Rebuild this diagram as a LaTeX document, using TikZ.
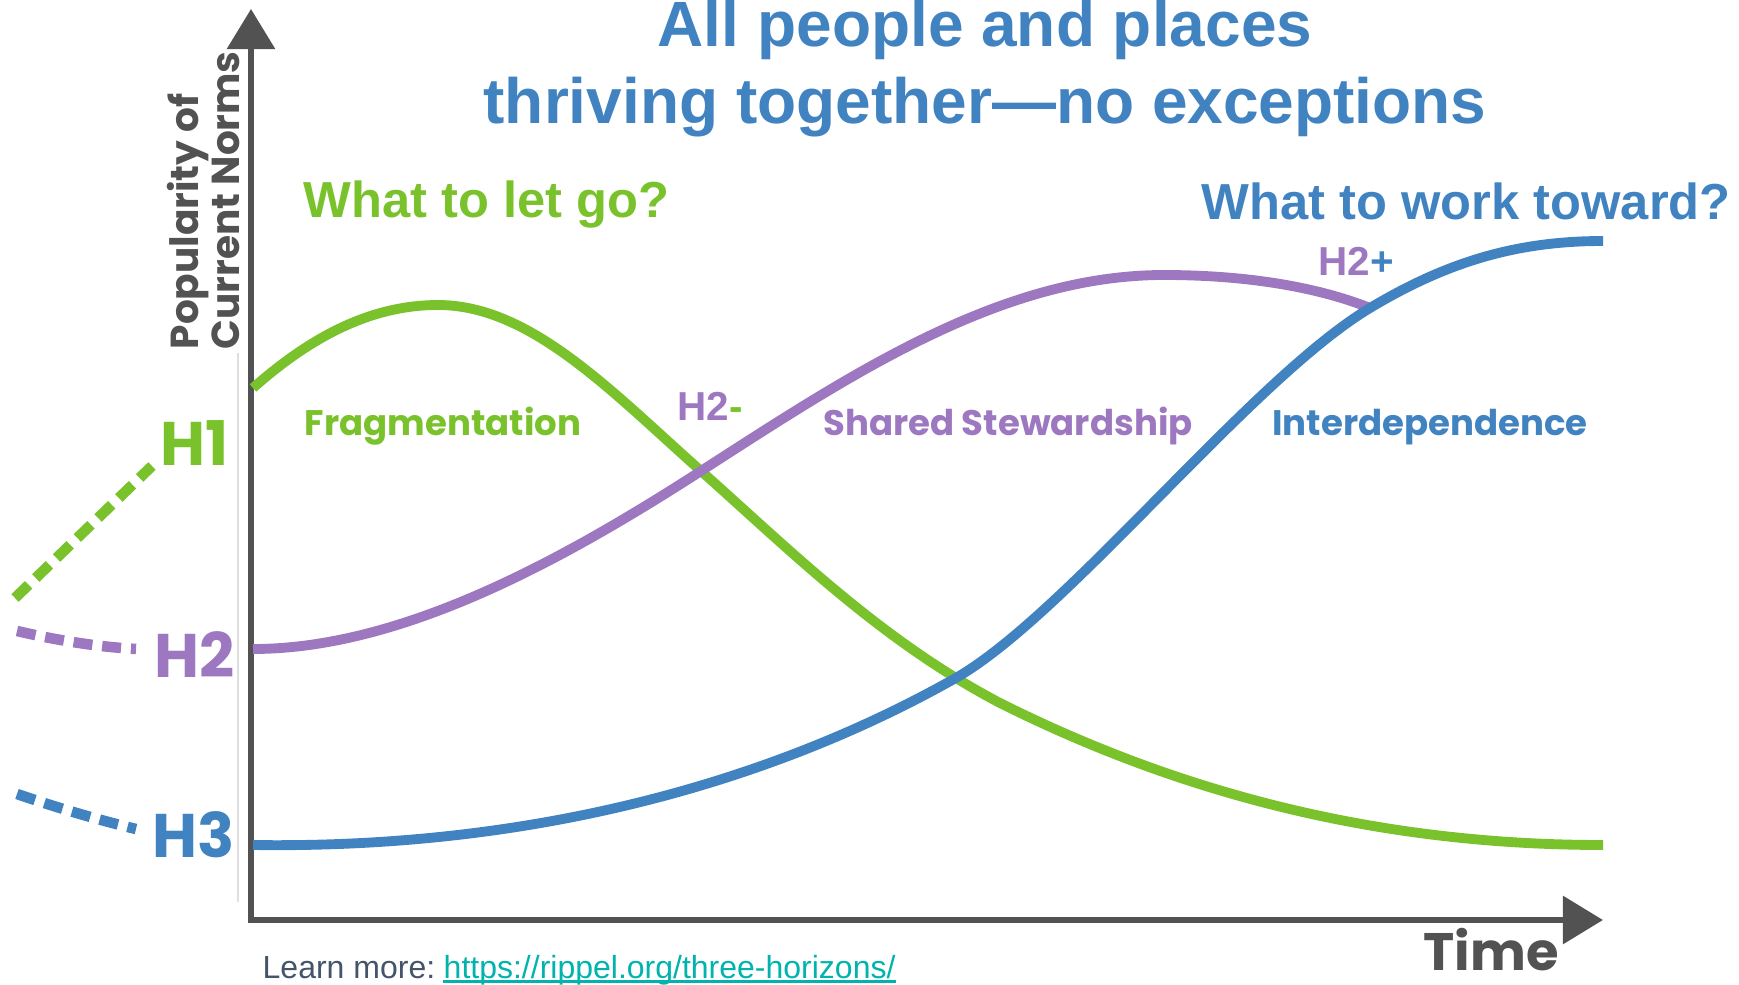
\documentclass[tikz,border=0pt]{standalone}
\usepackage{fontspec}
\setmainfont{Liberation Sans}
\newfontfamily\geofont{Poppins}
\usetikzlibrary{arrows.meta}

\definecolor{hgreen}{HTML}{7AC22C}
\definecolor{hpurple}{HTML}{9D78C0}
\definecolor{hblue}{HTML}{4183C1}
\definecolor{axisgray}{HTML}{525252}
\definecolor{linkteal}{HTML}{00B3AD}
\definecolor{slate}{HTML}{44546A}

\tikzset{
  curve/.style={line width=2.8pt},
  horizon/.style={line width=3pt, dash pattern=on 5.4pt off 2.8pt},
  hlabel/.style={font=\geofont\bfseries\fontsize{17.5}{20}\selectfont, inner sep=0pt},
  phase/.style={font=\geofont\bfseries\fontsize{10.1}{12}\selectfont, inner sep=0pt},
  question/.style={font=\bfseries\fontsize{14.4}{17}\selectfont, inner sep=0pt},
  axisline/.style={line width=1.7pt, color=axisgray},
}

\begin{document}
\begin{tikzpicture}[x=0.01cm,y=-0.01cm]
\useasboundingbox (0,0) rectangle (1739,985);

% axes
\coordinate (ytop) at (251,9);
\coordinate (origin) at (251,920);
\coordinate (xend) at (1603,920);
\draw[gray!25, line width=0.4pt] (238,353) -- (238,902);
\draw[axisline, {Triangle[length=11.4pt,width=13.4pt]}-{Triangle[length=11.4pt,width=13.4pt]}] (ytop) -- (origin) -- (xend);
\node[font=\geofont\bfseries\fontsize{11.1}{11.8}\selectfont, text=axisgray, rotate=90, align=left, anchor=south west, inner sep=0pt] (ylabel) at (241,350) {Popularity of\\Current Norms};
\node[font=\geofont\bfseries\fontsize{15}{18}\selectfont, text=axisgray, anchor=base west, inner sep=0pt] (xlabel) at (1423,970) {Time};

% title
\node[font=\bfseries\fontsize{18.2}{21.9}\selectfont, text=hblue, align=center, anchor=north, inner sep=0pt] (title) at (985,-1) {All people and places\\thriving together---no exceptions};
\node[question, text=hgreen, anchor=base west] (letgo) at (303,218) {What to let go?};
\node[question, text=hblue, anchor=base west] (toward) at (1201,219) {What to work toward?};

% the three horizons
\draw[curve, hgreen] (253,388) .. controls (315,333) and (375,305) .. (438,305)
  .. controls (530,305) and (610,390) .. (701,471)
  .. controls (790,550) and (880,640) .. (1000,703)
  .. controls (1200,803) and (1400,845) .. (1603,845);
\draw[curve, hpurple] (253,649) .. controls (400,649) and (560,562) .. (701,471)
  .. controls (850,375) and (1000,275) .. (1164,275)
  .. controls (1250,275) and (1320,288) .. (1370,308);
\draw[curve, hblue] (253,845) .. controls (600,850) and (835,746) .. (954,679)
  .. controls (1065,617) and (1250,380) .. (1370,308)
  .. controls (1450,260) and (1520,241) .. (1603,241);

% dashed lead-ins
\draw[horizon, hgreen] (15,598) -- (152,466);
\draw[horizon, hpurple] (17,631) .. controls (60,641) and (100,647) .. (136,649);
\draw[horizon, hblue] (17,794) .. controls (55,807) and (95,819) .. (136,829);

\node[hlabel, text=hgreen, anchor=base east] (h1) at (229,465) {H1};
\node[hlabel, text=hpurple, anchor=base east] (h2) at (235,677) {H2};
\node[hlabel, text=hblue, anchor=base east] (h3) at (235,857) {H3};

% phase labels
\node[phase, text=hgreen, anchor=base] (frag) at (443,435) {Fragmentation};
\node[phase, text=hpurple, anchor=base] (shared) at (1008,435) {Shared Stewardship};
\node[phase, text=hblue, anchor=base] (inter) at (1430,435) {Interdependence};
\node[font=\bfseries\fontsize{11.5}{13}\selectfont, anchor=base west, inner sep=0pt] (h2minus) at (677,420) {\textcolor{hpurple}{H2}\textcolor{hgreen}{-}};
\node[font=\bfseries\fontsize{11.5}{13}\selectfont, anchor=base west, inner sep=0pt] (h2plus) at (1318,276) {\textcolor{hpurple}{H2}\textcolor{hblue}{+}};

% source
\node[font=\fontsize{9.1}{11}\selectfont, text=slate, anchor=base west, inner sep=0pt] (source) at (262,978) {Learn more:};
\node[font=\fontsize{9.1}{11}\selectfont, text=linkteal, anchor=base west, inner sep=0pt] (link) at (443,978) {https://rippel.org/three-horizons/};
\draw[linkteal, line width=0.85pt] ([yshift=-1.1pt]link.base west) -- ([yshift=-1.1pt]link.base east);
\end{tikzpicture}
\end{document}
